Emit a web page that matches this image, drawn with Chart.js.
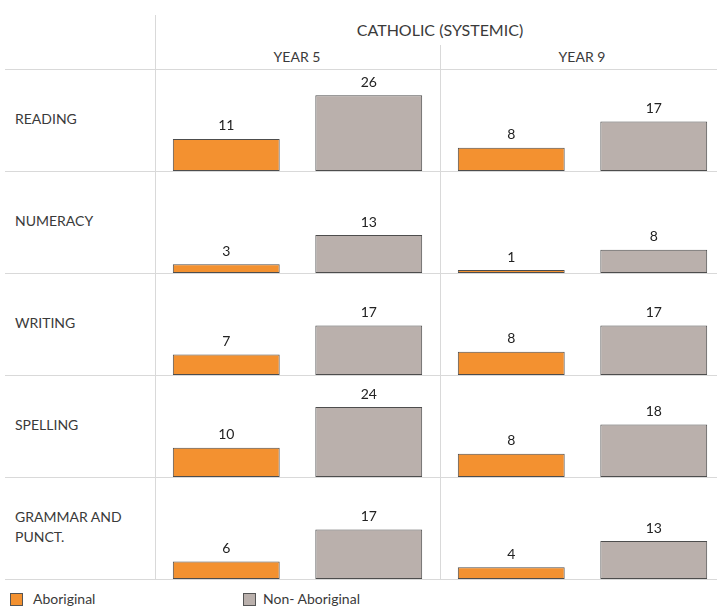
<!DOCTYPE html>
<html>
<head>
<meta charset="utf-8">
<script src="https://cdn.jsdelivr.net/npm/chart.js"></script>
<style>
  body { margin: 0; overflow: hidden; background: #fff; font-family: Lato, "Open Sans", sans-serif; color: #3a3a3a; }
  #wrap { position: relative; width: 717px; height: 606px; overflow: hidden; }
  .hl { position: absolute; left: 5px; width: 720px; height: 1px; background: #d9d9d9; }
  .vl { position: absolute; width: 1px; background: #d9d9d9; }
  .txt { position: absolute; font-size: 14px; white-space: nowrap; }
  .row canvas { position: absolute; left: 155px; }
  .sw { position: absolute; width: 11px; height: 11px; border: 1px solid #555; }
</style>
</head>
<body>
<div id="wrap">
  <div class="txt" style="left:340px;top:20px;font-size:16px;width:200px;text-align:center">CATHOLIC (SYSTEMIC)</div>
  <div class="txt" style="left:197px;top:48px;width:200px;text-align:center">YEAR 5</div>
  <div class="txt" style="left:482px;top:48px;width:200px;text-align:center">YEAR 9</div>
  <div class="vl" style="left:155px;top:15px;height:564px"></div>
  <div class="vl" style="left:440px;top:45px;height:534px"></div>
  <div id="rows"></div>
  <div class="sw" style="left:10px;top:593px;background:#F39130"></div>
  <div class="txt" style="left:33px;top:590px">Aboriginal</div>
  <div class="sw" style="left:243px;top:593px;background:#BAB0AC"></div>
  <div class="txt" style="left:263px;top:590px">Non- Aboriginal</div>
</div>
<script>
const subjects = ['READING', 'NUMERACY', 'WRITING', 'SPELLING', 'GRAMMAR AND\nPUNCT.'];
const years = ['YEAR 5', 'YEAR 9'];
const aboriginalY5 = [11, 3, 7, 10, 6];
const nonAboriginalY5 = [26, 13, 17, 24, 17];
const aboriginalY9 = [8, 1, 8, 8, 4];
const nonAboriginalY9 = [17, 8, 17, 18, 13];

const orange = '#F39130';
const grey = '#BAB0AC';
const rowTop = 69, rowH = 102;

// value labels above each bar
const barLabels = {
  id: 'barLabels',
  afterDatasetsDraw(chart) {
    const c = chart.ctx;
    c.save();
    c.font = '14px Lato, "Open Sans", sans-serif';
    c.fillStyle = '#222';
    c.textAlign = 'center';
    c.textBaseline = 'bottom';
    chart.getDatasetMeta(0).data.forEach((bar, i) => {
      c.fillText(chart.data.datasets[0].data[i], bar.x, bar.y - 6);
    });
    c.restore();
  }
};

const rows = document.getElementById('rows');
subjects.forEach((s, r) => {
  const top = rowTop + r * rowH;
  const line = document.createElement('div');
  line.className = 'hl';
  line.style.top = top + 'px';
  rows.appendChild(line);

  const lbl = document.createElement('div');
  lbl.className = 'txt';
  lbl.style.left = '15px';
  lbl.style.lineHeight = '20px';
  lbl.style.top = (top + (s.includes('\n') ? 30 : 40)) + 'px';
  lbl.innerHTML = s.replace('\n', '<br>');
  rows.appendChild(lbl);

  const cv = document.createElement('canvas');
  cv.width = 570; cv.height = rowH;
  cv.style.top = top + 'px';
  const holder = document.createElement('div');
  holder.className = 'row';
  holder.appendChild(cv);
  rows.appendChild(holder);

  new Chart(cv, {
    type: 'bar',
    data: {
      labels: ['Y5 Aboriginal', 'Y5 Non- Aboriginal', 'Y9 Aboriginal', 'Y9 Non- Aboriginal'],
      datasets: [{
        data: [aboriginalY5[r], nonAboriginalY5[r], aboriginalY9[r], nonAboriginalY9[r]],
        backgroundColor: [orange, grey, orange, grey],
        borderColor: '#4d4d4d',
        borderWidth: 1,
        borderSkipped: false,
        barPercentage: 0.75,
        categoryPercentage: 1
      }]
    },
    options: {
      responsive: false,
      animation: false,
      layout: { padding: 0 },
      plugins: { legend: { display: false }, tooltip: { enabled: false } },
      scales: {
        x: { display: false },
        y: { display: false, min: 0, max: 35 }
      }
    },
    plugins: [barLabels]
  });
});
const last = document.createElement('div');
last.className = 'hl';
last.style.top = (rowTop + 5 * rowH) + 'px';
rows.appendChild(last);
</script>
</body>
</html>
